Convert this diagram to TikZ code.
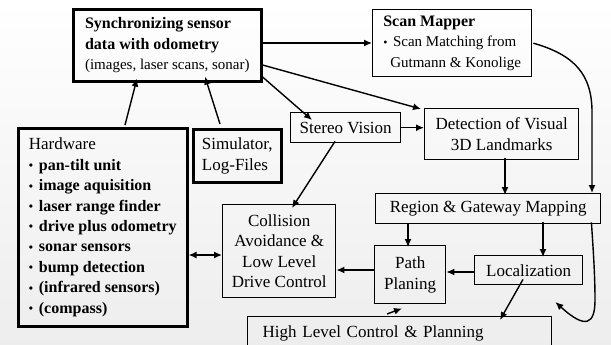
\documentclass[tikz,border=0pt]{standalone}
\usepackage{fontspec}
\setmainfont{Liberation Serif}
\usetikzlibrary{arrows.meta,calc}

\begin{document}
\begin{tikzpicture}[x=1pt,y=-1pt,
  box/.style={draw, line width=1.4pt, inner sep=0pt, anchor=north west,
    font=\fontsize{17}{20.6}\selectfont},
  heavy/.style={box, line width=2.6pt},
  arr/.style={line width=1.4pt, -{Latex[length=8pt,width=7pt]}},
  dblarr/.style={line width=1.4pt, {Latex[length=8pt,width=7pt]}-{Latex[length=8pt,width=7pt]}},
]
% small bullet followed by a bold list entry
\newcommand\smallbullet{\makebox[6pt][l]{\fontsize{12}{12}\selectfont\raisebox{0.5pt}{•}}}
\newcommand\hwitem[1]{\textbf{\fontsize{16}{20.4}\selectfont \smallbullet\ #1}}
\useasboundingbox (0,0) rectangle (611,345);
\shade[top color=white, bottom color=black!7] (0,0) rectangle (611,345);

% sensor synchronisation and data sources
\node[heavy, minimum width=188, minimum height=72, align=left] (sync) at (72,8)
  {\textbf{\fontsize{16}{20.6}\selectfont Synchronizing sensor}\\
   \textbf{\fontsize{16}{20.6}\selectfont data with odometry}\\
   {\fontsize{15}{18}\selectfont (images, laser scans, sonar)}};

\node[box, minimum width=159, minimum height=67, align=left] (scan) at (372,9)
  {\textbf{\fontsize{16}{20.6}\selectfont Scan Mapper}\\
   {\fontsize{15}{18}\selectfont \smallbullet\ Scan Matching from}\\
   {\fontsize{15}{18}\selectfont \hspace*{7pt}Gutmann \& Konolige}};

\node[heavy, minimum width=169, minimum height=198, align=left, font=\fontsize{17}{20.4}\selectfont] (hw) at (17,127)
  {Hardware\\ \hwitem{pan-tilt unit}\\ \hwitem{image aquisition}\\ \hwitem{laser range finder}\\
   \hwitem{drive plus odometry}\\ \hwitem{sonar sensors}\\ \hwitem{bump detection}\\
   \hwitem{(infrared sensors)}\\ \hwitem{(compass)}};

\node[heavy, minimum width=88, minimum height=53, align=left] (sim) at (192,128)
  {Simulator,\\ Log-Files};

% perception
\node[box, minimum width=110, minimum height=30] (stereo) at (290,112) {Stereo Vision};
\node[box, minimum width=154, minimum height=51, align=center] (det) at (424,108)
  {Detection of Visual\\ 3D Landmarks};

% mapping, planning and control
\node[box, minimum width=225, minimum height=30] (region) at (375,193) {Region \& Gateway Mapping};
\node[box, minimum width=71, minimum height=58, align=center] (path) at (374,245) {Path\\ Planing};
\node[box, minimum width=108, minimum height=29] (loc) at (474,255) {Localization};
\node[box, minimum width=113, minimum height=93, align=center] (coll) at (222,204)
  {Collision\\ Avoidance \&\\ Low Level\\ Drive Control};
\node[box, minimum width=304, minimum height=33, text width=274, inner xsep=15, align=left] (high) at (247,316)
  {High Level Control \& Planning};

% connectors
\draw[arr] (sync.east |- 0,43) -- (scan.west |- 0,43);
\draw[arr] (sync.east |- 0,65) -- ($(det.north west)+(-3,1)$);
\draw[arr] (sync.east |- 0,77) -- ($(stereo.north west)+(22,8)$);
\draw[arr] ($(hw.north west)+(108,-2)$) -- ($(sync.south west)+(65,-4)$);
\draw[arr] ($(sim.north west)+(28,-4)$) -- ($(sync.south west)+(133,-6)$);
\draw[arr] (stereo.east) -- (det.west |- stereo.east);
\draw[arr] ($(stereo.south west)+(45,-2)$) -- ($(coll.north west)+(70,4)$);
\draw[arr] ($(det.south west)+(81,-2)$) -- ($(region.north west)+(130,2)$);
\draw[arr] ($(scan.east)+(1,0)$) .. controls (575,55) and (592,75) .. (592,112) -- (region.north -| 592,0);
\draw[arr] ($(region.south west)+(33,-1)$) -- ($(path.north west)+(34,2)$);
\draw[arr] ($(region.south west)+(168,-2)$) -- ($(loc.north west)+(69,2)$);
\draw[arr] (loc.west |- 0,272) -- (path.east |- 0,272);
\draw[arr] (path.west |- 0,270) -- (coll.east |- 0,270);
\draw[arr] ($(loc.south west)+(49,-6)$) -- ($(high.north west)+(253,4)$);
\draw[arr] ($(high.north west)+(140,-2)$) -- ($(path.south west)+(28,4)$);
\draw[arr] ($(region.south east)+(-10,-2)$) .. controls (594,260) and (595,280) .. (595,300)
  .. controls (595,324) and (586,330) .. ($(high.north east)+(3,-14)$);
\draw[dblarr] (hw.east |- 0,255) -- (coll.west |- 0,255);
\end{tikzpicture}
\end{document}
